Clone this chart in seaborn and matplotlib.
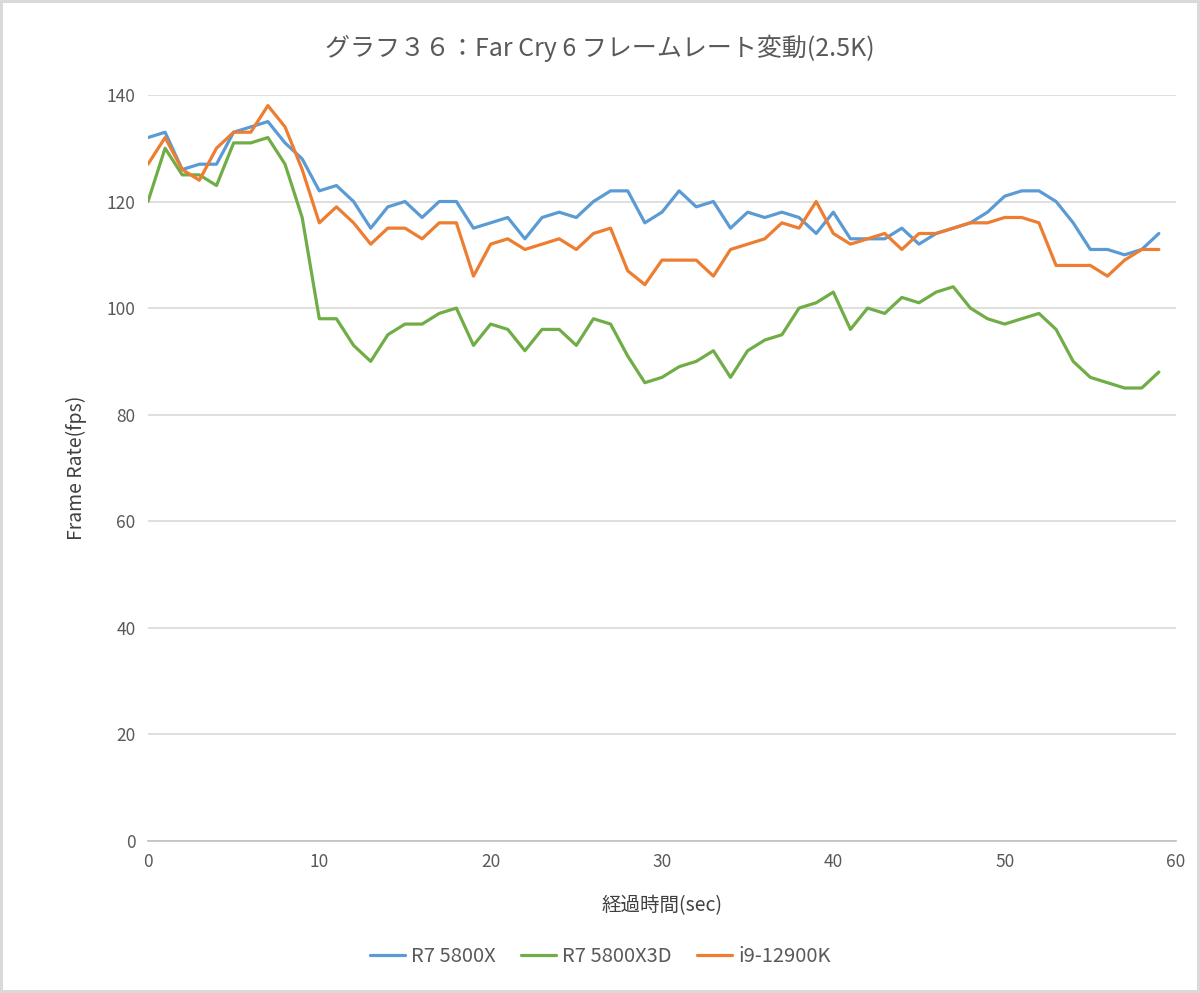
import numpy as np
import pandas as pd
import seaborn as sns
import matplotlib.pyplot as plt

# frame rate per second
r7_5800x = [132, 133, 126, 127, 127, 133, 134, 135, 131, 128,
            122, 123, 120, 115, 119, 120, 117, 120, 120, 115,
            116, 117, 113, 117, 118, 117, 120, 122, 122, 116,
            118, 122, 119, 120, 115, 118, 117, 118, 117, 114,
            118, 113, 113, 113, 115, 112, 114, 115, 116, 118,
            121, 122, 122, 120, 116, 111, 111, 110, 111, 114]
r7_5800x3d = [120, 130, 125, 125, 123, 131, 131, 132, 127, 117,
              98, 98, 93, 90, 95, 97, 97, 99, 100, 93,
              97, 96, 92, 96, 96, 93, 98, 97, 91, 86,
              87, 89, 90, 92, 87, 92, 94, 95, 100, 101,
              103, 96, 100, 99, 102, 101, 103, 104, 100, 98,
              97, 98, 99, 96, 90, 87, 86, 85, 85, 88]
i9_12900k = [127, 132, 126, 124, 130, 133, 133, 138, 134, 126,
             116, 119, 116, 112, 115, 115, 113, 116, 116, 106,
             112, 113, 111, 112, 113, 111, 114, 115, 107, 104.4,
             109, 109, 109, 106, 111, 112, 113, 116, 115, 120,
             114, 112, 113, 114, 111, 114, 114, 115, 116, 116,
             117, 117, 116, 108, 108, 108, 106, 109, 111, 111]
seconds = np.arange(len(r7_5800x))

series_names = ['R7 5800X', 'R7 5800X3D', 'i9-12900K']
series_colors = ['#5B9BD5', '#70AD47', '#ED7D31']

df = pd.concat([
    pd.DataFrame({'sec': seconds, 'fps': vals, 'cpu': name})
    for name, vals in zip(series_names, [r7_5800x, r7_5800x3d, i9_12900k])
])

sns.set_style('white')
plt.rcParams['font.family'] = ['Noto Sans CJK JP', 'DejaVu Sans']

fig = plt.figure(figsize=(12, 9.93), dpi=100)
fig.patch.set_edgecolor('#d9d9d9')
fig.patch.set_linewidth(3)
ax = fig.add_axes([0.1233, 0.1531, 0.8567, 0.7513])

sns.lineplot(data=df, x='sec', y='fps', hue='cpu', hue_order=series_names,
             palette=series_colors, linewidth=2.3, ax=ax)

ax.set_xlim(0, 60)
ax.set_ylim(0, 140)
ax.set_xticks(range(0, 61, 10))
ax.set_yticks(range(0, 141, 20))
ax.yaxis.grid(True, color='#d9d9d9', linewidth=1.2)
ax.set_axisbelow(True)
for s in ['top', 'right', 'left']:
    ax.spines[s].set_visible(False)
ax.spines['bottom'].set_color('#bfbfbf')
ax.spines['bottom'].set_linewidth(1.2)
ax.tick_params(axis='both', colors='#595959', labelsize=12.5, length=0, pad=9)

ax.set_xlabel('経過時間(sec)', fontsize=14, color='#404040', labelpad=17)
ax.set_ylabel('Frame Rate(fps)', fontsize=14, color='#404040', labelpad=14)
fig.suptitle('グラフ３６：Far Cry 6 フレームレート変動(2.5K)', fontsize=18,
             color='#595959', y=0.965)

# legend centred on the figure, not the axes
ax.legend(loc='center', bbox_to_anchor=(0.5, 0.037), bbox_transform=fig.transFigure,
          ncol=3, frameon=False, fontsize=14.5, handlelength=1.75,
          handletextpad=0.3, columnspacing=1.25, labelcolor='#595959')

fig.savefig('out.png', dpi=100)
